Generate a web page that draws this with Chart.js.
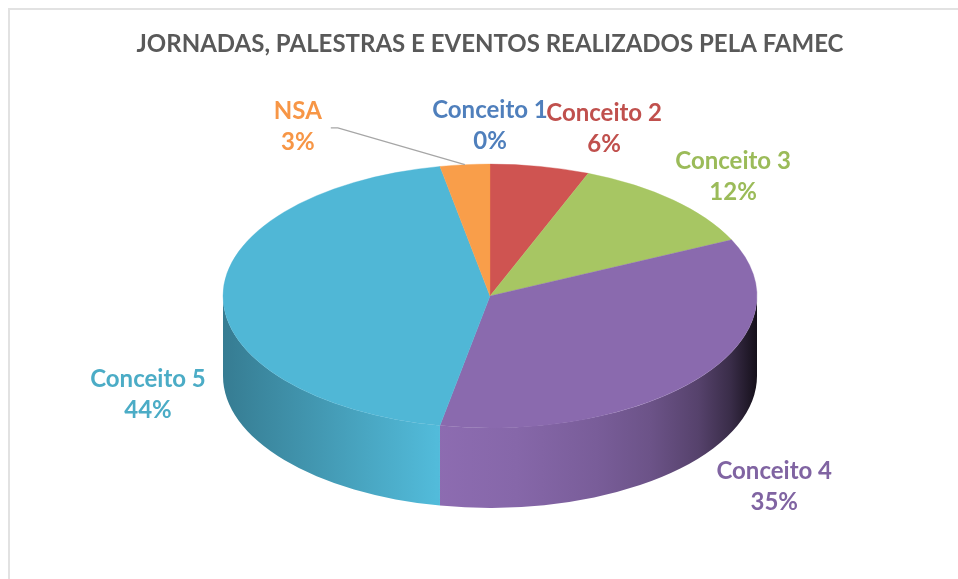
<!DOCTYPE html>
<html>
<head>
<meta charset="utf-8">
<title>Jornadas, palestras e eventos</title>
<script src="https://cdn.jsdelivr.net/npm/chart.js@4.4.1/dist/chart.umd.min.js"></script>
<style>
  html, body { margin: 0; padding: 0; background: #fff; }
  #frame { position: absolute; left: 8px; top: 8px; width: 990px; height: 620px; border: 2px solid #e2e2e2; }
  #wrap { position: absolute; left: 0; top: 0; width: 958px; height: 579px; }
</style>
</head>
<body>
<div id="frame"></div>
<div id="wrap"><canvas id="pieChart" width="958" height="579"></canvas></div>
<script>
const chartTitle = 'JORNADAS, PALESTRAS E EVENTOS REALIZADOS PELA FAMEC';
const categories = ['Conceito 1', 'Conceito 2', 'Conceito 3', 'Conceito 4', 'Conceito 5', 'NSA'];
const values = [0, 6, 12, 35, 44, 3];
const sliceColors = ['#5a8ccc', '#cf5451', '#a7c663', '#8a6aae', '#50b7d6', '#f99e4a'];
const labelColors = ['#4f7fbc', '#c0504d', '#9bbb59', '#8064a2', '#4bacc6', '#f79646'];

// look of the 3d pie
const tilt = 0.494;     // top ellipse height / width
const depth = 80;       // thickness on screen
const labelFont = 'bold 24px Lato';
const labelShiftX = [0, 50, 9, 14, 0, -160]; // push labels apart so they don't collide
const labelShiftY = [0, 0, 4, 0, 15, 0];

function shade(hex, f) {
  const n = parseInt(hex.slice(1), 16);
  const c = [(n >> 16) & 255, (n >> 8) & 255, n & 255].map(v => Math.max(0, Math.min(255, Math.round(v * f))));
  return `rgb(${c[0]}, ${c[1]}, ${c[2]})`;
}

const pie3d = {
  id: 'pie3d',
  beforeDatasetsDraw(chart) {
    const ctx = chart.ctx;
    const arcs = chart.getDatasetMeta(0).data;
    const cx = arcs[0].x, cy = arcs[0].y, r = arcs[0].outerRadius;
    ctx.save();
    ctx.translate(cx, cy);
    ctx.scale(1, tilt);
    ctx.translate(-cx, -cy);
    const d = depth / tilt;
    // side wall, only the front half (0..PI) can be seen
    arcs.forEach((arc, i) => {
      const a0 = Math.max(arc.startAngle, 0);
      const a1 = Math.min(arc.endAngle, Math.PI);
      if (a1 <= a0) return;
      const base = sliceColors[i];
      const g = ctx.createLinearGradient(cx - r, 0, cx + r, 0);
      g.addColorStop(0, shade(base, 0.68));
      g.addColorStop(0.14, shade(base, 0.8));
      g.addColorStop(0.4, shade(base, 1.02));
      g.addColorStop(0.55, shade(base, 0.97));
      g.addColorStop(0.7, shade(base, 0.88));
      g.addColorStop(0.8, shade(base, 0.78));
      g.addColorStop(0.89, shade(base, 0.62));
      g.addColorStop(0.95, shade(base, 0.42));
      g.addColorStop(1, shade(base, 0.15));
      ctx.beginPath();
      ctx.arc(cx, cy, r, a0, a1);
      ctx.lineTo(cx + r * Math.cos(a1), cy + d + r * Math.sin(a1));
      ctx.arc(cx, cy + d, r, a1, a0, true);
      ctx.closePath();
      ctx.fillStyle = g;
      ctx.fill();
    });
  },
  afterDatasetsDraw(chart) {
    const ctx = chart.ctx;
    ctx.restore();
    const arcs = chart.getDatasetMeta(0).data;
    const cx = arcs[0].x, cy = arcs[0].y, r = arcs[0].outerRadius;
    const total = values.reduce((a, b) => a + b, 0);

    // title
    ctx.save();
    ctx.font = labelFont;
    ctx.fillStyle = '#595959';
    ctx.textAlign = 'center';
    ctx.textBaseline = 'alphabetic';
    ctx.fillText(chartTitle, 490, 52);
    ctx.restore();

    // data labels
    arcs.forEach((arc, i) => {
      const mid = (arc.startAngle + arc.endAngle) / 2;
      const ux = Math.cos(mid), uy = Math.sin(mid);
      const ex = cx + r * ux, ey = cy + r * tilt * uy;
      const lx = cx + (r + 75) * ux + labelShiftX[i];
      const ly = cy + (r * tilt + 42) * uy + (uy > -0.2 ? depth : 0) + labelShiftY[i];
      const pct = Math.round(values[i] / total * 100) + '%';
      ctx.save();
      if (Math.abs(labelShiftX[i]) > 100) {
        // leader line for a label pushed far from its slice
        ctx.strokeStyle = '#a6a6a6';
        ctx.lineWidth = 1.3;
        ctx.beginPath();
        ctx.moveTo(lx + 33, ly + 5);
        ctx.lineTo(lx + 40, ly + 5);
        ctx.lineTo(ex, ey);
        ctx.stroke();
      }
      ctx.font = labelFont;
      ctx.fillStyle = labelColors[i];
      ctx.textAlign = 'center';
      ctx.textBaseline = 'alphabetic';
      ctx.fillText(categories[i], lx, ly - 4);
      ctx.fillText(pct, lx, ly + 27);
      ctx.restore();
    });
  }
};

const ctx = document.getElementById('pieChart').getContext('2d');
new Chart(ctx, {
  type: 'pie',
  data: {
    labels: categories,
    datasets: [{
      data: values,
      backgroundColor: sliceColors,
      borderColor: sliceColors,
      borderWidth: 0.5,
      radius: 267,
      clip: false
    }]
  },
  options: {
    responsive: false,
    animation: false,
    layout: { padding: { left: 40, right: 18, top: 44, bottom: 31 } },
    plugins: {
      legend: { display: false },
      tooltip: { enabled: false },
      title: { display: false }
    }
  },
  plugins: [pie3d]
});
</script>
</body>
</html>
